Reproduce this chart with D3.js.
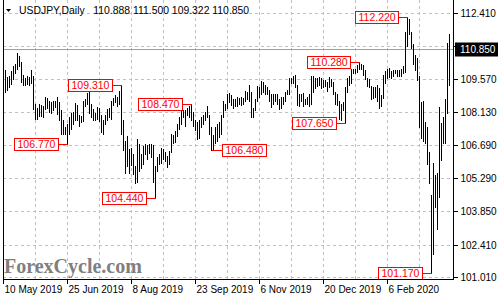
<!DOCTYPE html>
<html>
<head>
<meta charset="utf-8">
<script src="https://cdn.jsdelivr.net/npm/d3@7"></script>
<style>
body { margin: 0; background: #fff; }
svg { display: block; font-family: "Liberation Sans", Arial, sans-serif; }
</style>
</head>
<body>
<svg id="chart" width="500" height="300"></svg>
<script>
// chart data
const SYMBOL = "USDJPY,Daily";
const LAST_OHLC = [110.888, 111.500, 109.322, 110.850];
const LAST_PRICE = 110.850;
const WATERMARK = "ForexCycle.com";

const DATE_LABELS = ["10 May 2019", "25 Jun 2019", "8 Aug 2019", "23 Sep 2019", "6 Nov 2019", "20 Dec 2019", "6 Feb 2020"];
const DATE_LABEL_BARS = [0, 32, 64, 96, 128, 160, 192];
const PRICE_TICKS = [112.410, 110.990, 109.570, 108.130, 106.690, 105.290, 103.850, 102.410, 101.010];
// the 110.990 label sits under the last-price box
const HIDDEN_TICK = 110.990;

// daily highs / lows, one per bar
const HIGHS = [
	110.04, 109.95, 109.66, 109.67, 109.92, 110.10, 110.20, 110.67, 110.55, 110.30,
	109.75, 109.60, 109.70, 109.65, 109.93, 109.70, 108.50, 108.30, 108.50, 108.45,
	108.40, 108.80, 108.75, 108.60, 108.55, 108.60, 108.62, 108.80, 108.55, 108.20,
	107.80, 107.50, 107.60, 107.90, 108.10, 108.15, 108.53, 108.45, 108.00, 107.95,
	108.60, 108.70, 108.95, 109.00, 108.50, 108.25, 108.10, 108.35, 108.30, 108.00,
	107.80, 108.00, 108.25, 108.30, 108.60, 108.75, 108.85, 108.80, 109.05, 109.31,
	107.80, 106.90, 107.10, 106.55, 106.60, 106.30, 105.80, 106.98, 106.75, 106.30,
	106.65, 106.75, 106.70, 106.75, 106.75, 106.70, 105.80, 106.20, 106.30, 106.60,
	106.55, 106.40, 106.25, 106.45, 107.20, 107.15, 107.30, 107.60, 107.90, 108.25,
	108.20, 108.20, 108.30, 108.40, 108.47, 108.15, 107.80, 107.70, 107.80, 107.90,
	108.00, 108.15, 108.40, 108.00, 107.50, 107.15, 107.50, 107.60, 107.70, 108.00,
	108.60, 108.50, 108.90, 108.95, 108.85, 108.70, 108.70, 108.80, 108.75, 108.80,
	108.75, 109.05, 109.00, 109.30, 109.00, 108.30, 108.70, 109.25, 109.20, 109.48,
	109.45, 109.30, 109.20, 109.10, 108.90, 108.90, 108.90, 108.90, 108.70, 108.80,
	108.80, 109.00, 109.10, 109.60, 109.60, 109.70, 109.73, 109.30, 108.90, 108.90,
	108.95, 108.70, 108.80, 108.90, 109.70, 109.70, 109.60, 109.60, 109.65, 109.60,
	109.50, 109.50, 109.45, 109.65, 109.55, 109.45, 109.00, 108.90, 108.60, 108.50,
	108.55, 109.20, 109.60, 109.70, 110.00, 110.00, 110.00, 110.15, 110.28, 110.20,
	110.15, 109.95, 109.60, 109.55, 109.25, 109.20, 109.20, 109.30, 109.15, 108.85,
	109.75, 109.90, 110.00, 110.05, 109.90, 109.95, 109.95, 109.95, 109.95, 110.00,
	110.10, 111.60, 112.22, 112.15, 111.60, 111.05, 110.60, 110.45, 109.70, 108.55,
	108.60, 107.70, 107.50, 106.40, 104.55, 105.95, 105.40, 105.50, 108.35, 107.65,
	107.90, 108.70, 111.10, 111.50
];
const LOWS = [
	109.47, 109.02, 109.10, 109.23, 109.35, 109.55, 109.80, 110.00, 110.10, 109.45,
	109.30, 109.30, 109.35, 109.30, 109.40, 108.28, 107.82, 107.85, 107.95, 107.95,
	107.90, 108.25, 108.30, 108.15, 108.10, 108.20, 108.35, 108.05, 107.80, 107.20,
	107.20, 107.20, 106.77, 107.20, 107.40, 107.60, 107.80, 107.80, 107.55, 107.70,
	107.75, 108.40, 108.50, 108.10, 107.90, 107.80, 107.80, 107.85, 107.75, 107.25,
	107.20, 107.60, 107.80, 107.90, 107.85, 108.45, 108.55, 108.40, 108.50, 107.20,
	106.50, 105.52, 105.80, 105.50, 105.85, 105.45, 105.05, 105.10, 105.60, 105.70,
	105.90, 106.30, 106.10, 106.35, 106.20, 105.10, 104.44, 105.60, 105.90, 105.95,
	106.10, 106.00, 105.75, 105.90, 106.40, 106.80, 106.85, 107.10, 107.40, 107.60,
	107.90, 107.55, 108.00, 107.90, 107.80, 107.55, 107.35, 106.95, 107.00, 107.50,
	107.60, 107.80, 107.90, 107.20, 106.48, 106.55, 106.80, 106.90, 107.05, 107.20,
	107.90, 108.20, 108.30, 108.55, 108.45, 108.30, 108.40, 108.40, 108.50, 108.45,
	108.50, 108.60, 108.70, 108.60, 107.90, 107.90, 108.20, 108.60, 108.80, 108.90,
	109.00, 108.90, 108.90, 108.60, 108.35, 108.50, 108.60, 108.50, 108.25, 108.30,
	108.50, 108.60, 108.90, 108.90, 109.40, 109.40, 109.20, 108.43, 108.40, 108.60,
	108.40, 108.50, 108.50, 108.40, 108.50, 109.00, 109.15, 109.25, 109.30, 109.15,
	109.20, 109.25, 109.05, 109.20, 109.25, 108.90, 108.50, 108.45, 107.85, 107.80,
	108.20, 107.65, 109.00, 109.30, 109.40, 109.80, 109.80, 109.85, 110.00, 110.00,
	109.75, 109.55, 109.25, 109.20, 108.70, 108.75, 108.80, 108.60, 108.30, 108.40,
	108.75, 109.40, 109.60, 109.65, 109.60, 109.70, 109.80, 109.70, 109.70, 109.70,
	109.80, 109.85, 111.00, 111.50, 110.90, 110.20, 109.95, 109.50, 107.50, 107.00,
	106.90, 106.80, 105.90, 105.05, 101.17, 102.00, 104.05, 103.10, 104.45, 106.05,
	106.80, 106.80, 108.10, 109.32
];

// swing high / low markers
const SWING_BARS = [32, 59, 76, 94, 104, 171, 178, 202, 214];
const SWING_PRICES = [106.770, 109.310, 104.440, 108.470, 106.480, 107.650, 110.280, 112.220, 101.170];
const SWING_RIGHT = [false, false, false, false, true, false, false, false, false];

const svg = d3.select("#chart");
const plot = { left: 3, right: 453, top: 0, bottom: 279 };

const xScale = d3.scaleLinear()
	.domain([0, HIGHS.length - 1])
	.range([3, 3 + 2 * (HIGHS.length - 1)]);

const yScale = d3.scaleLinear()
	.domain([101.01, 112.41])
	.range([277, 13]);

const px = v => Math.round(v) + 0.5;
const GRID_COLOR = "#c0c0c0";

// grid
const grid = svg.append("g")
	.attr("stroke", GRID_COLOR)
	.attr("stroke-dasharray", "3,3")
	.attr("shape-rendering", "crispEdges");

grid.selectAll(".hgrid")
	.data(PRICE_TICKS)
	.join("line")
	.attr("x1", plot.left)
	.attr("x2", plot.right)
	.attr("y1", d => px(yScale(d)))
	.attr("y2", d => px(yScale(d)));

grid.selectAll(".vgrid")
	.data(d3.range(16, HIGHS.length, 16))
	.join("line")
	.attr("x1", d => px(xScale(d)))
	.attr("x2", d => px(xScale(d)))
	.attr("y1", plot.top)
	.attr("y2", plot.bottom);

// current price line
svg.append("line")
	.attr("x1", plot.left)
	.attr("x2", plot.right)
	.attr("y1", px(yScale(LAST_PRICE)))
	.attr("y2", px(yScale(LAST_PRICE)))
	.attr("stroke", "#a0a0a0")
	.attr("shape-rendering", "crispEdges");

// title
svg.append("path")
	.attr("d", "M6,9 L11,9 L8.5,12 Z")
	.attr("fill", "#000");
svg.append("text")
	.attr("x", 19)
	.attr("y", 14)
	.attr("font-size", 10.4)
	.attr("fill", "#000")
	.attr("xml:space", "preserve")
	.text(SYMBOL + "   " + LAST_OHLC.map(d => d.toFixed(3)).join(" "));

// watermark
svg.append("text")
	.attr("x", 4)
	.attr("y", 273)
	.attr("font-family", "'Liberation Serif', 'Times New Roman', serif")
	.attr("font-weight", "bold")
	.attr("font-size", 20)
	.attr("fill", "#7f7f7f")
	.text(WATERMARK);

// bars
svg.append("g")
	.attr("stroke", "#000")
	.attr("shape-rendering", "crispEdges")
	.selectAll("line")
	.data(HIGHS.map((h, i) => ({ i, h, l: LOWS[i] })))
	.join("line")
	.attr("x1", d => px(xScale(d.i)))
	.attr("x2", d => px(xScale(d.i)))
	.attr("y1", d => Math.round(yScale(d.h)))
	.attr("y2", d => Math.round(yScale(d.l)) + 1);

// swing labels
SWING_BARS.forEach((bar, k) => {
	const price = SWING_PRICES[k];
	const bx = px(xScale(bar));
	const by = px(yScale(price));
	const g = svg.append("g");
	const t = g.append("text")
		.attr("font-size", 10.5)
		.attr("fill", "#ff0000")
		.attr("dy", "0.36em")
		.text(price.toFixed(3));
	const tw = t.node().getComputedTextLength();
	const bw = Math.round(tw + 6);
	const gap = 10;
	const left = SWING_RIGHT[k] ? Math.round(bx + gap) : Math.round(bx - gap - bw);
	g.insert("rect", "text")
		.attr("x", left + 0.5)
		.attr("y", Math.round(by - 6.5) + 0.5)
		.attr("width", bw)
		.attr("height", 12)
		.attr("fill", "#fff")
		.attr("stroke", "#ff0000");
	t.attr("x", left + 3.5).attr("y", by);
	g.append("line")
		.attr("x1", SWING_RIGHT[k] ? bx : left + bw + 0.5)
		.attr("x2", SWING_RIGHT[k] ? left + 0.5 : bx)
		.attr("y1", by)
		.attr("y2", by)
		.attr("stroke", "#ff0000")
		.attr("shape-rendering", "crispEdges");
});

// frame
svg.append("path")
	.attr("d", `M${plot.left + 0.5},${plot.top}V${plot.bottom + 0.5}H${plot.right + 0.5}V${plot.top}`)
	.attr("fill", "none")
	.attr("stroke", "#000")
	.attr("shape-rendering", "crispEdges");

// y axis
const yAxis = svg.append("g")
	.attr("transform", `translate(${plot.right + 0.5},0)`)
	.call(d3.axisRight(yScale)
		.tickValues(PRICE_TICKS)
		.tickFormat(d => d === HIDDEN_TICK ? "" : d3.format(".3f")(d))
		.tickSize(4)
		.tickPadding(3));
yAxis.select(".domain").remove();
yAxis.selectAll(".tick line").attr("shape-rendering", "crispEdges");
yAxis.selectAll(".tick text")
	.attr("font-family", "'Liberation Sans', Arial, sans-serif")
	.attr("font-size", 10)
	.attr("fill", "#000");
yAxis.selectAll(".tick").attr("transform", d => `translate(0,${px(yScale(d))})`);

// last price box
const lastY = px(yScale(LAST_PRICE));
svg.append("rect")
	.attr("x", plot.right + 2)
	.attr("y", lastY - 7)
	.attr("width", 43)
	.attr("height", 14)
	.attr("fill", "#000");
svg.append("text")
	.attr("x", plot.right + 7)
	.attr("y", lastY)
	.attr("dy", "0.36em")
	.attr("font-size", 10)
	.attr("fill", "#fff")
	.text(LAST_PRICE.toFixed(3));

// x axis
const xAxis = svg.append("g")
	.attr("transform", `translate(0,${plot.bottom + 0.5})`)
	.call(d3.axisBottom(xScale)
		.tickValues(DATE_LABEL_BARS)
		.tickFormat((d, i) => DATE_LABELS[i])
		.tickSize(4)
		.tickPadding(2));
xAxis.select(".domain").remove();
xAxis.selectAll(".tick").attr("transform", d => `translate(${px(xScale(d))},0)`);
xAxis.selectAll(".tick line").attr("shape-rendering", "crispEdges");
xAxis.selectAll(".tick text")
	.attr("font-family", "'Liberation Sans', Arial, sans-serif")
	.attr("font-size", 10)
	.attr("fill", "#000")
	.attr("text-anchor", "start")
	.attr("x", 1);
</script>
</body>
</html>
